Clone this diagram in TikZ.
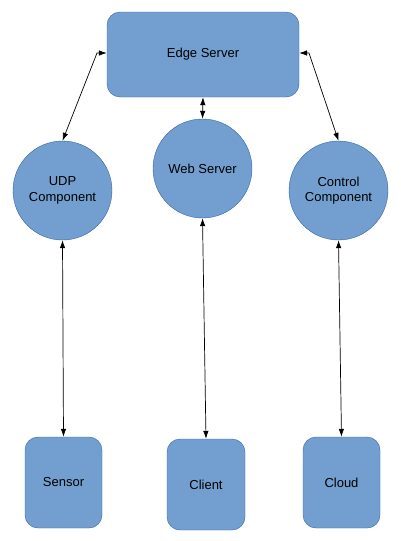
\documentclass[tikz,border=0pt]{standalone}
\usepackage{fontspec}
\setmainfont{Liberation Sans}
\usetikzlibrary{
  arrows.meta,
  calc,
  positioning,
}
\definecolor{boxfill}{HTML}{729FCF}
\definecolor{boxline}{HTML}{3465A4}
\tikzset{
  >={Latex[length=8pt,width=5.5pt]},
  box/.style={draw=boxline, fill=boxfill, rounded corners=13pt, align=center,
    font=\fontsize{13}{15.5}\selectfont},
  comp/.style={circle, draw=boxline, fill=boxfill, minimum size=99pt,
    inner sep=0pt, align=center, font=\fontsize{13}{15.5}\selectfont},
  link/.style={<->, line width=0.7pt},
}

\begin{document}
\begin{tikzpicture}[x=1pt, y=-1pt]
      \useasboundingbox (0,0) rectangle (401,541);
      \node[box, minimum width=192pt, minimum height=85pt] (edge) at (203,54.5) {Edge Server};
      \node[comp] (web) at (202.5,168.5) {Web Server};
      \node[comp] (udp) at (62.5,190.5) {UDP\\Component};
      \node[comp] (ctrl) at (338.5,190.5) {Control\\Component};
      \node[box, minimum width=77pt, minimum height=91pt] (sensor) at (63.5,482.5) {Sensor};
      \node[box, minimum width=78pt, minimum height=91pt] (client) at (206,484.5) {Client};
      \node[box, minimum width=77pt, minimum height=91pt] (cloud) at (341.5,482.5) {Cloud};
      \coordinate (lbend) at (97,53);
      \coordinate (rbend) at (309,53);
      \draw[link] (udp.north) -- (lbend) -- (edge.west |- lbend);
      \draw[link] (ctrl.north) -- (rbend) -- (edge.east |- rbend);
      \draw[link] (edge.south) -- (web.north);
      \draw[link] (web.south) -- (client.north);
      \draw[link] (udp.south) -- (sensor.north);
      \draw[link] (ctrl.south) -- (cloud.north);
    \end{tikzpicture}
\end{document}
